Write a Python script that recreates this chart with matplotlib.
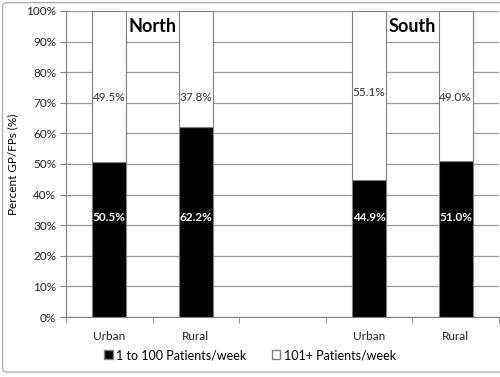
import matplotlib.pyplot as plt
import numpy as np
from matplotlib.patches import FancyBboxPatch, Patch

# categories (empty slot separates North and South)
categories = ['Urban', 'Rural', '', 'Urban', 'Rural']
low_patients = [50.5, 62.2, np.nan, 44.9, 51.0]     # 1 to 100 Patients/week
high_patients = [49.5, 37.8, np.nan, 55.1, 49.0]    # 101+ Patients/week
regions = ['North', 'South']

plt.rcParams['font.family'] = ['Lato', 'DejaVu Sans']

fig = plt.figure(figsize=(5, 3.77), dpi=100)
ax = fig.add_axes([0.132, 0.159, 0.866, 0.812])

x = np.arange(len(categories))
low = np.array(low_patients)
high = np.array(high_patients)

ax.bar(x, low, width=0.39, color='black', edgecolor='#808080', linewidth=0.8, zorder=3)
ax.bar(x, high, width=0.39, bottom=low, color='white', edgecolor='#808080', linewidth=0.8, zorder=3)

# value labels (placed like the original, not centred)
for i in range(len(categories)):
    if np.isnan(low[i]):
        continue
    ax.text(x[i], 32.5, '%.1f%%' % low[i], color='white', fontsize=8.5, fontweight='bold',
            ha='center', va='center', zorder=4)
    y_top = 73.2 if i == 3 else 71.8
    ax.text(x[i], y_top, '%.1f%%' % high[i], color='#333333', fontsize=8.5,
            ha='center', va='center', zorder=4)

# region titles
ax.text(0.5, 95, regions[0], fontsize=13, fontweight='bold', ha='center', va='center', zorder=5,
        bbox=dict(facecolor='white', edgecolor='none', pad=1))
ax.text(3.5, 95, regions[1], fontsize=13, fontweight='bold', ha='center', va='center', zorder=5,
        bbox=dict(facecolor='white', edgecolor='none', pad=1))

ax.set_xlim(-0.5, len(categories) - 0.5)
ax.set_ylim(0, 100)
ax.set_yticks(np.arange(0, 101, 10))
ax.set_yticklabels(['%d%%' % v for v in range(0, 101, 10)], fontsize=8.5, color='#222222')
ax.set_xticks(x)
ax.set_xticklabels(categories, fontsize=8.5, color='#222222')
ax.set_xticks(np.arange(-0.5, len(categories), 1), minor=True)
ax.tick_params(axis='x', which='major', length=0, pad=10)
ax.tick_params(axis='x', which='minor', length=4, color='#808080')
ax.tick_params(axis='y', length=4, color='#808080', pad=3)
ax.set_ylabel('Percent GP/FPs (%)', fontsize=8.5, labelpad=6)

ax.grid(axis='y', color='#999999', linewidth=0.9, zorder=0)
ax.set_axisbelow(True)
for side in ['top', 'right']:
    ax.spines[side].set_visible(False)
for side in ['left', 'bottom']:
    ax.spines[side].set_color('#808080')

handles = [Patch(facecolor='black', edgecolor='#808080', label='1 to 100 Patients/week'),
           Patch(facecolor='white', edgecolor='#808080', label='101+ Patients/week')]
fig.legend(handles=handles, loc='center', bbox_to_anchor=(0.5, 0.058), ncol=2, frameon=False,
           fontsize=9, handlelength=0.7, handleheight=0.7, handletextpad=0.3, columnspacing=2.0)

# outer chart border
border = FancyBboxPatch((0.005, 0.013), 1.2, 0.98, boxstyle='round,pad=0,rounding_size=0.01',
                        transform=fig.transFigure, facecolor='none', edgecolor='#b0b0b0',
                        linewidth=1.0, zorder=0)
fig.patches.append(border)

fig.savefig('out.png', dpi=100)
